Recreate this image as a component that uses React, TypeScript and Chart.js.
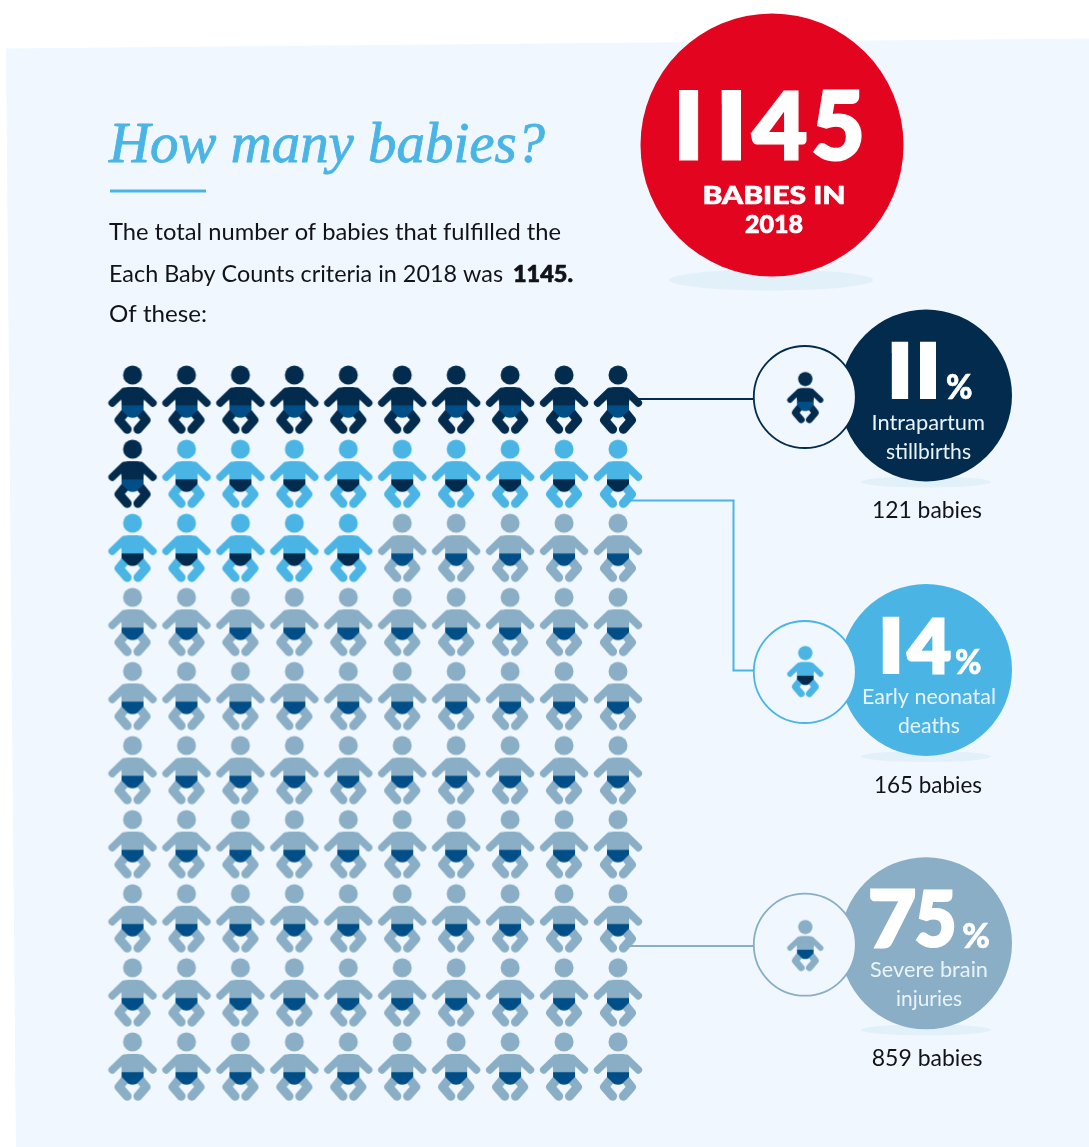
import React, { useEffect, useRef } from "react";
import { Chart, registerables } from "chart.js";

Chart.register(...registerables);

// ---- data ----
const categories = ["Intrapartum stillbirths", "Early neonatal deaths", "Severe brain injuries"];
const percentages = [11, 14, 75];
const babyCounts = [121, 165, 859];
const totalBabies = 1145;
const iconKeys = ["S", "N", "B"];
const iconRows = [
  "SSSSSSSSSS",
  "SNNNNNNNNN",
  "NNNNNBBBBB",
  "BBBBBBBBBB",
  "BBBBBBBBBB",
  "BBBBBBBBBB",
  "BBBBBBBBBB",
  "BBBBBBBBBB",
  "BBBBBBBBBB",
  "BBBBBBBBBB",
];
const labelLines = [
  ["Intrapartum", "stillbirths"],
  ["Early neonatal", "deaths"],
  ["Severe brain", "injuries"],
];

// ---- styles ----
const W = 1089;
const H = 1147;
const PAGE = "#F0F7FE";
const SHADOW = "#E2F0F9";
const NAVY = "#022B4D";
const BLUE = "#4AB5E5";
const GREY = "#89AEC6";
const PANTS = "#004E87";
const RED = "#E30520";
const INK = "#111318";
const bodyColors = [NAVY, BLUE, GREY];
const pantsColors = [PANTS, NAVY, PANTS];

function makeBaby(body: string, pants: string, s: number) {
  const c = document.createElement("canvas");
  c.width = Math.ceil(60 * s);
  c.height = Math.ceil(80 * s);
  const g = c.getContext("2d")!;
  g.scale(s, s);
  g.translate(30, 15);
  g.fillStyle = body;
  g.strokeStyle = body;
  g.lineCap = "round";
  g.lineJoin = "round";
  g.beginPath();
  g.arc(0, 0, 9.5, 0, Math.PI * 2);
  g.fill();
  g.beginPath();
  g.roundRect(-11.3, 12, 22.6, 20, 6.5);
  g.fill();
  g.beginPath();
  g.rect(-11, 20, 22, 12);
  g.fill();
  g.lineWidth = 7.4;
  for (const d of [-1, 1]) {
    g.beginPath();
    g.moveTo(d * 8.5, 16.5);
    g.lineTo(d * 20.4, 28);
    g.stroke();
  }
  g.lineWidth = 9;
  for (const d of [-1, 1]) {
    g.beginPath();
    g.moveTo(d * 7, 37);
    g.lineTo(d * 13.5, 45);
    g.lineTo(d * 5.4, 54.3);
    g.stroke();
  }
  g.fillStyle = pants;
  g.beginPath();
  g.moveTo(-11, 30.3);
  g.lineTo(11, 30.3);
  g.lineTo(11, 35);
  g.lineTo(4, 42);
  g.quadraticCurveTo(0, 43.4, -4, 42);
  g.lineTo(-11, 35);
  g.closePath();
  g.fill();
  return c;
}

// horizontal fit: draws real text squeezed to a measured width, with an optional extra stroke
function fitText(
  ctx: CanvasRenderingContext2D,
  str: string,
  left: number,
  baseline: number,
  font: string,
  width: number,
  color: string,
  extra = 0
) {
  ctx.save();
  ctx.font = font;
  ctx.fillStyle = color;
  ctx.textAlign = "left";
  ctx.textBaseline = "alphabetic";
  const m = ctx.measureText(str).width;
  ctx.translate(left, baseline);
  ctx.scale(width / m, 1);
  ctx.fillText(str, 0, 0);
  if (extra > 0) {
    ctx.strokeStyle = color;
    ctx.lineWidth = extra;
    ctx.lineJoin = "round";
    ctx.strokeText(str, 0, 0);
  }
  ctx.restore();
}

const stemCache: Record<string, [number, number]> = {};
function stemOfOne(family: string) {
  if (stemCache[family]) return stemCache[family];
  const c = document.createElement("canvas");
  c.width = 400;
  c.height = 400;
  const g = c.getContext("2d")!;
  g.font = family;
  g.fillStyle = "#000";
  g.textBaseline = "alphabetic";
  g.fillText("1", 100, 300);
  const m = g.measureText("1");
  const row = Math.round(300 - m.actualBoundingBoxAscent * 0.45);
  const px = g.getImageData(0, row, 400, 1).data;
  let a = -1;
  let b = -1;
  for (let i = 0; i < 400; i++) {
    if (px[i * 4 + 3] > 128) {
      if (a < 0) a = i;
      b = i + 1;
    }
  }
  stemCache[family] = [a - 100, b - 100];
  return stemCache[family];
}

// draws a single glyph of real text so it fills the given box; a figure one is trimmed to its stem
function glyph(
  ctx: CanvasRenderingContext2D,
  ch: string,
  x0: number,
  x1: number,
  y0: number,
  y1: number,
  weight: string,
  color: string,
  extra = 0
) {
  const font = `${weight} 200px Lato`;
  ctx.save();
  ctx.font = font;
  ctx.fillStyle = color;
  ctx.textAlign = "left";
  ctx.textBaseline = "alphabetic";
  const m = ctx.measureText(ch);
  const asc = m.actualBoundingBoxAscent;
  const desc = m.actualBoundingBoxDescent;
  if (ch === "1") {
    const sy = (y1 - y0) / (asc + desc);
    const [a, b] = stemOfOne(font);
    const sx = (x1 - x0) / (b - a);
    ctx.beginPath();
    ctx.rect(x0, y0, x1 - x0, y1 - y0);
    ctx.clip();
    ctx.translate(x0 - a * sx, y0 - (0 - asc) * sy);
    ctx.scale(sx, sy * 1.3);
    ctx.translate(0, asc * 0.15);
    ctx.fillText(ch, 0, 0);
  } else {
    // the stroke thickens the face: shrink the box so the outer edge stays on the measured one
    const e = extra / 2;
    const sy = (y1 - y0 - 2 * e) / (asc + desc);
    const l = -m.actualBoundingBoxLeft;
    const r = m.actualBoundingBoxRight;
    const sx = (x1 - x0 - 2 * e) / (r - l);
    ctx.translate(x0 + e - l * sx, y0 + e + asc * sy);
    ctx.save();
    ctx.scale(sx, sy);
    ctx.fillText(ch, 0, 0);
    if (extra > 0) {
      ctx.strokeStyle = color;
      ctx.lineWidth = extra / Math.min(sx, sy);
      ctx.lineJoin = "miter";
      ctx.strokeText(ch, 0, 0);
    }
    ctx.restore();
  }
  ctx.restore();
}

function disc(ctx: CanvasRenderingContext2D, x: number, y: number, r: number, fill: string) {
  ctx.fillStyle = fill;
  ctx.beginPath();
  ctx.arc(x, y, r, 0, Math.PI * 2);
  ctx.fill();
}
function shadow(ctx: CanvasRenderingContext2D, x: number, y: number, rx: number, ry: number) {
  ctx.fillStyle = SHADOW;
  ctx.beginPath();
  ctx.ellipse(x, y, rx, ry, 0, 0, Math.PI * 2);
  ctx.fill();
}

// layout of the call-outs, in page pixels
const callouts = [
  {
    cy: 395.5, ringY: 397, babyY: 379,
    line: [[638, 399], [754, 399]],
    digits: [[891.7, 908.3], [920, 936]], digitY: [341.7, 399],
    pct: [946.7, 971.7, 374, 400],
    labelY: [430, 459], labelX: [[871.5, 985], [886, 971]],
    countY: 518, countX: [872, 982],
  },
  {
    cy: 670, ringY: 672, babyY: 653,
    line: [[630, 500.5], [733.5, 500.5], [733.5, 670.5], [754, 670.5]],
    digits: [[882.7, 899.5], [906, 951]], digitY: [616.7, 674],
    pct: [955.7, 980.7, 648.3, 675],
    labelY: [704, 733], labelX: [[862, 996], [898, 960]],
    countY: 793, countX: [874, 982],
  },
  {
    cy: 943.3, ringY: 944.7, babyY: 927,
    line: [[625, 946], [754, 946]],
    digits: [[870, 915], [916, 954.3]], digitY: [889, 948.3],
    pct: [963, 989, 922.7, 948.3],
    labelY: [977, 1006], labelX: [[870, 988], [896, 962]],
    countY: 1066, countX: [871.7, 982.5],
  },
];

const decorPlugin = {
  id: "decor",
  beforeDatasetsDraw(chart: any) {
    const ctx: CanvasRenderingContext2D = chart.ctx;
    ctx.save();
    // page panel
    ctx.fillStyle = PAGE;
    ctx.beginPath();
    ctx.moveTo(6, 48.5);
    ctx.lineTo(W, 38.5);
    ctx.lineTo(W, H);
    ctx.lineTo(16, H);
    ctx.closePath();
    ctx.fill();

    // heading
    fitText(ctx, "How many babies?", 109, 162, "italic 58px 'Liberation Serif'", 436, BLUE, 0.9);
    ctx.fillStyle = BLUE;
    ctx.fillRect(110, 189.5, 96, 3);
    const bodyFont = "400 23.5px Lato";
    fitText(ctx, "The total number of babies that fulfilled the", 109, 240, bodyFont, 452, INK);
    fitText(ctx, "Each Baby Counts criteria in 2018 was", 109, 282, bodyFont, 394, INK);
    fitText(ctx, `${totalBabies}.`, 513, 282, "900 23.5px Lato", 60, INK, 0.7);
    fitText(ctx, "Of these:", 109, 322, bodyFont, 98, INK);

    // red total
    shadow(ctx, 771, 280, 102, 10.5);
    disc(ctx, 772, 145, 131.5, RED);
    const tot = String(totalBabies);
    const boxes = [[679, 698.3], [721.7, 741], [750.7, 806.7], [813.3, 861.7]];
    tot.split("").forEach((ch, i) =>
      glyph(ctx, ch, boxes[i][0], boxes[i][1], 90, ch === "5" ? 161.3 : 160.4, "900", "#fff", 3)
    );
    fitText(ctx, "BABIES IN", 702.5, 204, "900 25px Lato", 143, "#fff", 0.7);
    fitText(ctx, "2018", 745, 232.7, "900 25px Lato", 58, "#fff", 0.7);

    // call-outs
    callouts.forEach((c, i) => {
      const col = bodyColors[i];
      ctx.strokeStyle = col;
      ctx.lineWidth = 2;
      ctx.beginPath();
      c.line.forEach(([x, y], k) => (k ? ctx.lineTo(x, y) : ctx.moveTo(x, y)));
      ctx.stroke();
      shadow(ctx, 926, c.cy + 86.5, 65, 5.5);
      disc(ctx, 926, c.cy, 86, col);
      disc(ctx, 804.8, c.ringY, 51, PAGE);
      ctx.strokeStyle = col;
      ctx.lineWidth = 1.8;
      ctx.beginPath();
      ctx.arc(804.8, c.ringY, 51, 0, Math.PI * 2);
      ctx.stroke();
      const icon = calloutIcons[i];
      ctx.drawImage(icon, 805.3 - 22.5, c.babyY - 15 * 0.75);
      String(percentages[i])
        .split("")
        .forEach((ch, k) =>
          glyph(ctx, ch, c.digits[k][0], c.digits[k][1], c.digitY[0], c.digitY[1], "900", "#fff", 3)
        );
      glyph(ctx, "%", c.pct[0], c.pct[1], c.pct[2], c.pct[3], "900", "#fff", 0.6);
      labelLines[i].forEach((t, k) =>
        fitText(ctx, t, c.labelX[k][0], c.labelY[k], "400 22px Lato", c.labelX[k][1] - c.labelX[k][0], "#E9F3FA")
      );
      fitText(ctx, `${babyCounts[i]} babies`, c.countX[0], c.countY, "400 23.5px Lato", c.countX[1] - c.countX[0], INK);
    });
    ctx.restore();
  },
};

const gridIcons = bodyColors.map((b, i) => makeBaby(b, pantsColors[i], 1));
const calloutIcons = bodyColors.map((b, i) => makeBaby(b, pantsColors[i], 0.75));

export default function App() {
  const ref = useRef<HTMLCanvasElement | null>(null);
  useEffect(() => {
    if (!ref.current) return;
    const datasets = categories.map((name, i) => {
      const data: { x: number; y: number }[] = [];
      iconRows.forEach((row, r) =>
        row.split("").forEach((key, c) => {
          if (key === iconKeys[i]) data.push({ x: c + 1, y: r + 1 });
        })
      );
      return {
        label: name,
        data,
        showLine: false,
        pointStyle: gridIcons[i] as any,
        pointRadius: 20,
        pointHoverRadius: 20,
        clip: false as any,
      };
    });
    const chart = new Chart(ref.current, {
      type: "scatter",
      data: { datasets },
      plugins: [decorPlugin],
      options: {
        animation: false,
        responsive: false,
        devicePixelRatio: 1,
        layout: {
          padding: { left: 105.55, right: W - 644.95, top: 363, bottom: H - (400 + 9 * 74.1 + 37.05) },
        },
        plugins: { legend: { display: false }, tooltip: { enabled: false }, title: { display: false } },
        scales: {
          x: { type: "linear", min: 0.5, max: 10.5, display: false },
          y: { type: "linear", min: 0.5, max: 10.5, reverse: true, display: false },
        },
      },
    });
    return () => chart.destroy();
  }, []);
  return (
    <canvas
      ref={ref}
      width={W}
      height={H}
      style={{ position: "absolute", left: 0, top: 0, width: W, height: H, display: "block" }}
    />
  );
}
